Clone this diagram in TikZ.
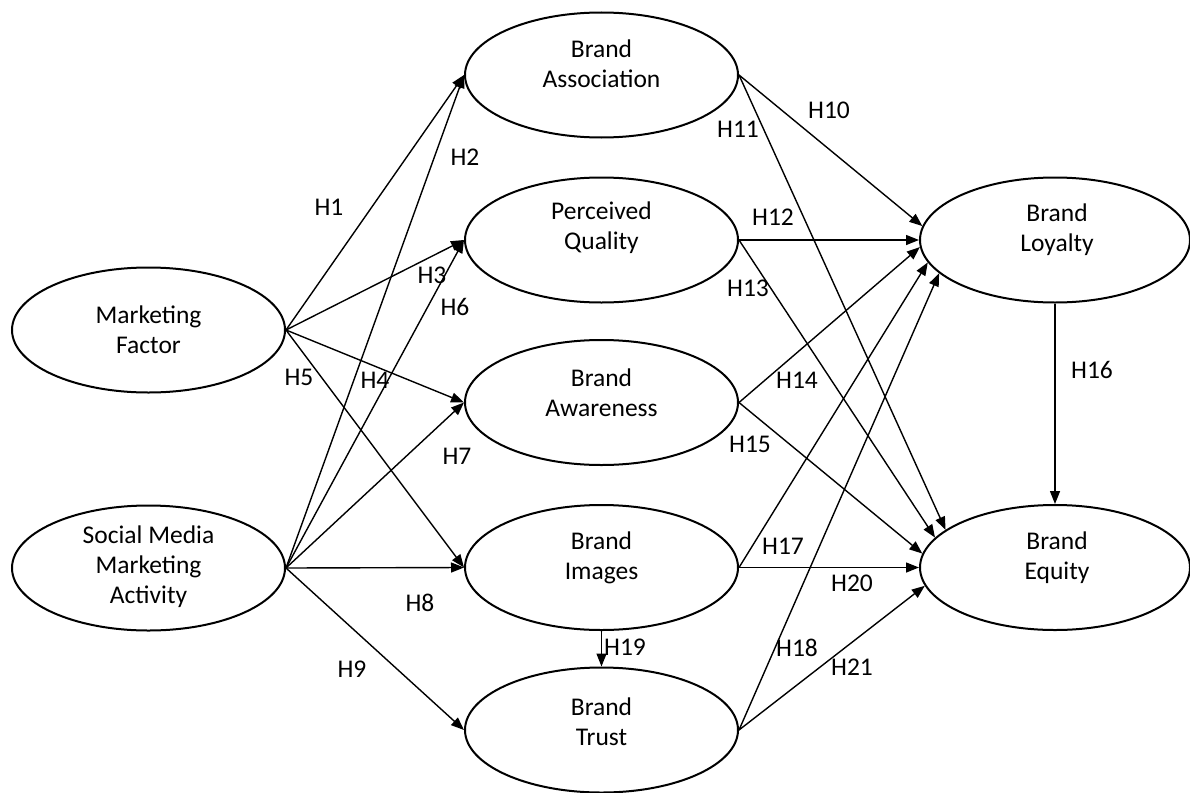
\documentclass[tikz,border=0pt]{standalone}
\usepackage{fontspec}
\setmainfont{Carlito}
\usetikzlibrary{arrows.meta,shapes.geometric}
\begin{document}
\begin{tikzpicture}[x=1pt,y=-1pt,
  ell/.style={ellipse,draw,line width=2pt,minimum width=273pt,minimum height=125pt,inner sep=0pt},
  txt/.style={align=center,font=\fontsize{25.5}{30}\selectfont,inner sep=0pt},
  hl/.style={font=\fontsize{25.5}{30}\selectfont,inner sep=0pt},
  arr/.style={line width=1.4pt,-{Triangle[length=13pt,width=10pt]}}]
\useasboundingbox (0,0) rectangle (1190,792);
% ellipses
\node[ell] (MF) at (148.5,330) {};
\node[ell] (SM) at (148.5,568) {};
\node[ell] (BA) at (601.5,75) {};
\node[ell] (PQ) at (601.5,240) {};
\node[ell] (AW) at (601.5,402.5) {};
\node[ell] (BI) at (601.5,567.5) {};
\node[ell] (BT) at (601.5,730) {};
\node[ell,minimum width=270pt] (BL) at (1055,240) {};
\node[ell,minimum width=270pt] (BE) at (1055,567.5) {};
% texts
\node[txt] (tMF) at (148.5,330) {Marketing\\Factor};
\node[txt] (tSM) at (148.5,567) {Social Media\\Marketing\\Activity};
\node[txt] (tBA) at (601.5,64) {Brand\\Association};
\node[txt] (tPQ) at (601.5,228) {Perceived\\Quality};
\node[txt] (tAW) at (601.5,393) {Brand\\Awareness};
\node[txt] (tBI) at (601.5,558) {Brand\\Images};
\node[txt] (tBT) at (601.5,722) {Brand\\Trust};
\node[txt] (tBL) at (1057,230) {Brand\\Loyalty};
\node[txt] (tBE) at (1057,558) {Brand\\Equity};
% left connectors
\draw[arr] (MF.east) -- (BA.west);
\draw[arr] (MF.east) -- (PQ.west);
\draw[arr] (MF.east) -- (AW.west);
\draw[arr] (MF.east) -- (BI.west);
\draw[arr] (SM.east) -- (BA.west);
\draw[arr] (SM.east) -- (PQ.west);
\draw[arr] (SM.east) -- (AW.west);
\draw[arr] (SM.east) -- (BI.west);
\draw[arr] (SM.east) -- (BT.west);
% right connectors
\draw[arr] (BA.east) -- (BL.174.5);
\draw[arr] (BA.east) -- (BE.161.6);
\draw[arr] (PQ.east) -- (BL.west);
\draw[arr] (PQ.east) -- (BE.166.5);
\draw[arr] (AW.east) -- (BL.183.5);
\draw[arr] (AW.east) -- (BE.174);
\draw[arr] (BL.south) -- (BE.north);
\draw[arr] (BI.east) -- (BL.190.7);
\draw[arr] (BT.east) -- (BL.196.5);
\draw[arr] (BI.south) -- (BT.north);
\draw[arr] (BI.east) -- (BE.west);
\draw[arr] (BT.east) -- (BE.188.6);
% labels
\node[hl] (l1) at (329,207) {H1};
\node[hl] (l2) at (465,157) {H2};
\node[hl] (l3) at (432,275) {H3};
\node[hl] (l4) at (375,380) {H4};
\node[hl] (l5) at (299,377) {H5};
\node[hl] (l6) at (455,307) {H6};
\node[hl] (l7) at (457,456) {H7};
\node[hl] (l8) at (420,603) {H8};
\node[hl] (l9) at (352,669) {H9};
\node[hl] (l10) at (829,110) {H10};
\node[hl] (l11) at (738,129) {H11};
\node[hl] (l12) at (773,217) {H12};
\node[hl] (l13) at (748,288) {H13};
\node[hl] (l14) at (797,380) {H14};
\node[hl] (l15) at (750,444) {H15};
\node[hl] (l16) at (1092,370) {H16};
\node[hl] (l17) at (783,546) {H17};
\node[hl] (l18) at (797,648) {H18};
\node[hl] (l19) at (625,647) {H19};
\node[hl] (l20) at (852,583) {H20};
\node[hl] (l21) at (852,667) {H21};
\end{tikzpicture}
\end{document}
